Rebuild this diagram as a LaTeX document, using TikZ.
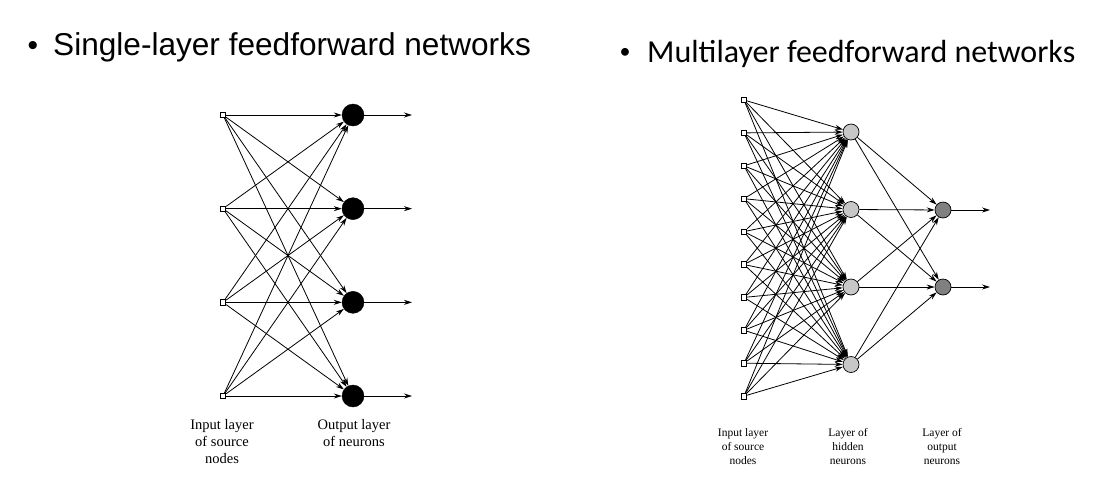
\documentclass[tikz,border=0pt]{standalone}
\usepackage{fontspec}
\setmainfont{Liberation Serif}
\newfontfamily\arialfont{Liberation Sans}
\newfontfamily\calibrifont{Carlito}
\usetikzlibrary{arrows.meta}

\begin{document}
\begin{tikzpicture}[x=1pt,y=-1pt,
    src/.style={draw,fill=white,minimum size=5.5pt,inner sep=0pt,line width=0.7pt},
    bigneuron/.style={circle,draw,fill=black,minimum size=22pt,inner sep=0pt},
    hidneuron/.style={circle,draw,fill=black!22,minimum size=16pt,inner sep=0pt,line width=0.7pt},
    outneuron/.style={circle,draw,fill=black!50,minimum size=16pt,inner sep=0pt,line width=0.7pt},
    link/.style={-{Stealth[length=8pt,width=5pt]},line width=0.8pt},
    caption/.style={align=center,font=\fontsize{14.5}{17}\selectfont,inner sep=0pt},
    smallcaption/.style={align=center,font=\fontsize{11.5}{14}\selectfont,inner sep=0pt}]
  \useasboundingbox (0,0) rectangle (1109,496);
  % titles
  \node (bulletleft) [inner sep=0pt,font=\arialfont\fontsize{30}{30}\selectfont] at (33,48) {\textbullet};
  \node (titleleft) [anchor=base west,inner sep=0pt,font=\arialfont\fontsize{31.6}{36}\selectfont] at (53,55) {Single-layer feedforward networks};
  \node (bulletright) [inner sep=0pt,font=\calibrifont\fontsize{22}{22}\selectfont] at (625,53) {\textbullet};
  \node (titleright) [anchor=base west,inner sep=0pt,font=\calibrifont\fontsize{32}{38}\selectfont] at (647,62) {Multilayer feedforward networks};
  % single-layer network
  \foreach \i in {1,...,4} {
    \node (in\i) [src] at (223,{115+93.67*(\i-1)}) {};
    \node (out\i) [bigneuron] at (353,{115+93.67*(\i-1)}) {};
    \coordinate (end\i) at (412,{115+93.67*(\i-1)});
  }
  \foreach \i in {1,...,4}
    \foreach \j in {1,...,4}
      \draw[link] (in\i) -- (out\j);
  \foreach \j in {1,...,4}
    \draw[link] (out\j) -- (end\j);
  \node (inputcap) [caption,anchor=north] at (222,419.5) {Input layer\\of source\\nodes};
  \node (outputcap) [caption,anchor=north] at (354,419.5) {Output layer\\of neurons};
  % multilayer network
  \foreach \i in {1,...,10}
    \node (mi\i) [src] at (744,{100+32.9*(\i-1)}) {};
  \foreach \j in {1,...,4}
    \node (hid\j) [hidneuron] at (851,{132+77.5*(\j-1)}) {};
  \foreach \k in {1,2} {
    \node (mo\k) [outneuron] at (943,{210+77*(\k-1)}) {};
    \coordinate (mend\k) at (990,{210+77*(\k-1)});
  }
  \foreach \i in {1,...,10}
    \foreach \j in {1,...,4}
      \draw[link] (mi\i) -- (hid\j);
  \foreach \j in {1,...,4}
    \foreach \k in {1,2}
      \draw[link] (hid\j) -- (mo\k);
  \foreach \k in {1,2}
    \draw[link] (mo\k) -- (mend\k);
  \node (minputcap) [smallcaption,anchor=north] at (743,428) {Input layer\\of source\\nodes};
  \node (hiddencap) [smallcaption,anchor=north] at (848,428) {Layer of\\hidden\\neurons};
  \node (moutputcap) [smallcaption,anchor=north] at (942,428) {Layer of\\output\\neurons};
\end{tikzpicture}
\end{document}
